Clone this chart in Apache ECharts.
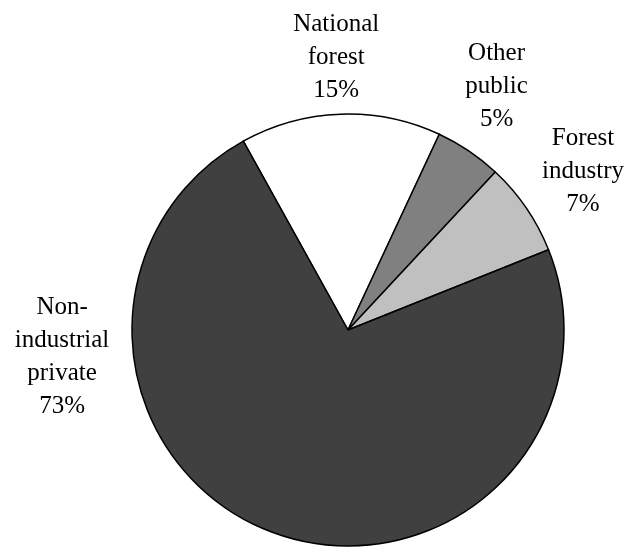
<!DOCTYPE html>
<html>
<head>
<meta charset="utf-8">
<script src="https://cdn.jsdelivr.net/npm/echarts@6/dist/echarts.min.js"></script>
<style>
  html, body { margin: 0; padding: 0; background: #fff; }
  #chart { width: 625px; height: 548px; }
</style>
</head>
<body>
<div id="chart"></div>
<script>
// Forest land ownership shares (percent)
const categories = ['National\nforest', 'Other\npublic', 'Forest\nindustry', 'Non-\nindustrial\nprivate'];
const shares = [15, 5, 7, 73];
const sliceColors = ['#ffffff', '#808080', '#c0c0c0', '#404040'];

const CX = 348, CY = 330, R = 216;
const START_FROM_TOP = -29;          // first slice edge, degrees clockwise from 12 o'clock
const LABEL_DIST = 280;              // label distance from the pie centre
const total = shares.reduce((a, b) => a + b, 0);

// mid-angle of each slice (clockwise from top), derived from the data
const midAngles = [];
let acc = 0;
shares.forEach(v => {
  midAngles.push(START_FROM_TOP + 360 * (acc + v / 2) / total);
  acc += v;
});
// the large slice carries its label out to the left side
midAngles[3] = 265;
// small hand nudges so the label blocks sit clear of each other
const labelNudge = [[-2, 7], [-8, -11], [4, 0], [-7, 3]];

const chart = echarts.init(document.getElementById('chart'), null, { renderer: 'canvas' });
chart.setOption({
  backgroundColor: '#ffffff',
  animation: false,
  series: [{
    type: 'pie',
    center: [CX, CY],
    radius: [0, R],
    startAngle: 90 - START_FROM_TOP,
    clockwise: true,
    avoidLabelOverlap: false,
    itemStyle: { borderColor: '#000000', borderWidth: 1.5 },
    emphasis: { disabled: true },
    label: {
      show: true,
      position: 'outside',
      fontFamily: '"Liberation Serif", "Times New Roman", serif',
      fontSize: 25,
      lineHeight: 33,
      color: '#000000',
      formatter: p => p.name + '\n' + p.value + '%'
    },
    labelLine: { show: false },
    labelLayout: params => {
      const i = params.dataIndex;
      const a = midAngles[i] * Math.PI / 180;
      return {
        x: CX + LABEL_DIST * Math.sin(a) + labelNudge[i][0],
        y: CY - LABEL_DIST * Math.cos(a) + labelNudge[i][1],
        align: 'center',
        verticalAlign: 'middle'
      };
    },
    data: categories.map((name, i) => ({
      name: name,
      value: shares[i],
      itemStyle: { color: sliceColors[i] }
    }))
  }]
});
</script>
</body>
</html>
